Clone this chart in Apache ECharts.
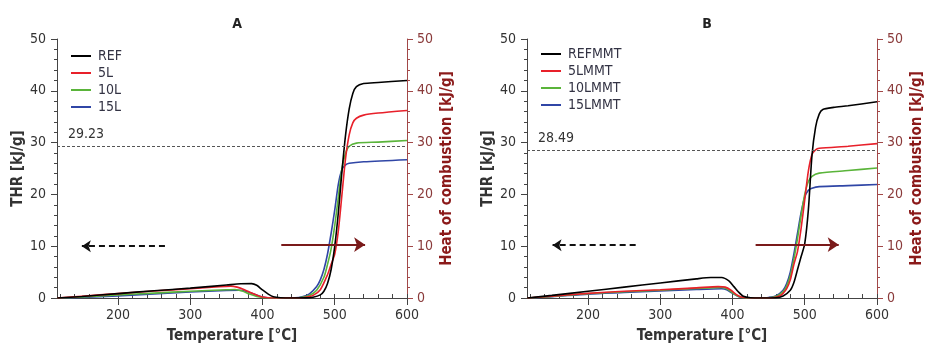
<!DOCTYPE html>
<html>
<head>
<meta charset="utf-8">
<script src="https://cdn.jsdelivr.net/npm/echarts@6/dist/echarts.min.js"></script>
<style>
  html, body { margin: 0; padding: 0; background: #fff; }
  #chart { width: 928px; height: 349px; }
</style>
</head>
<body>
<div id="chart"></div>
<script>
// panel titles, legend names, reference values
const panelTitles = ['A', 'B']
const namesA = ['REF', '5L', '10L', '15L']
const namesB = ['REFMMT', '5LMMT', '10LMMT', '15LMMT']
const refLevels = [29.23, 28.49]
const seriesColors = ['#000000', '#e8202a', '#5ab43a', '#3046a6']

// x axis ticks
const majorTicks = [200, 300, 400, 500, 600]
const minorTicks = [120, 140, 160, 180, 200, 220, 240, 260, 280, 300, 320, 340, 360, 380, 400,
  420, 440, 460, 480, 500, 520, 540, 560, 580, 600]

// arrows [x start, x end, y] in data units
const leftArrows = [[265, 150, 10], [266, 151, 10.2]]
const rightArrows = [[426, 542, 10.3], [432, 547, 10.3]]

// THR curves, [temperature, kJ/g]
const refA = [[116, 0], [150, 0.3], [200, 0.85], [250, 1.4], [300, 1.9], [350, 2.5], [370, 2.75], [385, 2.78],
  [392, 2.45], [400, 1.55], [408, 0.75], [415, 0.25], [425, 0.05], [440, 0], [460, 0.02], [470, 0.15], [480, 0.6],
  [485, 1.3], [490, 2.8], [495, 5.5], [500, 10], [505, 16.5], [510, 24.5], [515, 31.5], [520, 36.5], [525, 39.5],
  [530, 40.8], [540, 41.4], [560, 41.6], [600, 42.0]]
const l5A = [[116, 0], [150, 0.35], [200, 0.85], [250, 1.35], [300, 1.8], [340, 2.2], [356, 2.3], [365, 2.1],
  [375, 1.6], [385, 0.95], [395, 0.4], [405, 0.1], [420, 0], [450, 0.02], [460, 0.15], [470, 0.5], [480, 1.6],
  [490, 4.5], [495, 6.5], [500, 8.5], [505, 13], [510, 20], [515, 27], [520, 31.5], [525, 33.8], [530, 34.7],
  [540, 35.3], [560, 35.7], [600, 36.2]]
const l10A = [[116, 0], [150, 0.2], [200, 0.6], [250, 0.95], [300, 1.3], [350, 1.6], [362, 1.65], [372, 1.35],
  [382, 0.75], [392, 0.3], [402, 0.05], [420, 0], [445, 0.02], [455, 0.15], [465, 0.5], [475, 1.5], [485, 4],
  [490, 6.5], [495, 9.5], [500, 14], [505, 19.5], [510, 25], [515, 28], [520, 29.3], [530, 29.9], [560, 30.1],
  [600, 30.4]]
const l15A = [[116, 0], [150, 0.1], [200, 0.4], [250, 0.8], [300, 1.15], [350, 1.45], [368, 1.5], [378, 1.25],
  [388, 0.75], [397, 0.3], [407, 0.05], [420, 0], [445, 0.05], [455, 0.25], [465, 0.8], [475, 2.2], [480, 3.5],
  [485, 5.5], [490, 8.5], [495, 12.5], [500, 17], [505, 22], [510, 24.8], [515, 25.7], [520, 26.0], [540, 26.3],
  [600, 26.7]]

const refB = [[116, 0], [150, 0.5], [200, 1.3], [250, 2.1], [300, 2.9], [350, 3.7], [370, 3.95], [385, 3.95],
  [395, 3.3], [402, 2.2], [408, 1.2], [415, 0.35], [425, 0.05], [440, 0], [460, 0.05], [470, 0.4], [480, 1.5],
  [485, 3], [490, 5.5], [495, 8], [500, 10.5], [505, 17], [510, 27.5], [515, 33], [520, 35.5], [525, 36.4],
  [540, 36.8], [560, 37.1], [600, 37.9]]
const l5B = [[116, 0], [150, 0.35], [200, 0.9], [250, 1.3], [300, 1.6], [350, 1.95], [380, 2.2], [390, 2.1],
  [398, 1.5], [405, 0.7], [412, 0.2], [420, 0.05], [440, 0], [455, 0.05], [465, 0.4], [470, 0.9], [475, 1.8],
  [480, 3.5], [485, 6.5], [490, 9], [495, 13.5], [500, 19], [505, 24.5], [510, 27.7], [515, 28.6], [520, 28.9],
  [560, 29.3], [600, 29.8]]
const l10B = [[116, 0], [150, 0.3], [200, 0.85], [250, 1.2], [300, 1.5], [350, 1.85], [385, 2.05], [392, 1.8],
  [400, 1.0], [408, 0.35], [415, 0.08], [440, 0], [450, 0.05], [460, 0.3], [470, 1.2], [475, 2.3], [480, 4.3],
  [485, 7.5], [490, 11.5], [495, 16], [500, 20], [505, 22.5], [510, 23.5], [520, 24.1], [560, 24.6], [600, 25.1]]
const l15B = [[116, 0], [150, 0.25], [200, 0.75], [250, 1.05], [300, 1.35], [350, 1.65], [385, 1.8], [392, 1.6],
  [400, 0.9], [408, 0.3], [415, 0.05], [440, 0], [450, 0.1], [460, 0.4], [470, 1.5], [475, 2.8], [480, 5],
  [485, 8.5], [490, 12.5], [495, 16.5], [500, 19.5], [505, 20.8], [510, 21.2], [520, 21.5], [560, 21.7], [600, 21.9]]

const curves = [[refA, l5A, l10A, l15A], [refB, l5B, l10B, l15B]]
const names = [namesA, namesB]

const FONT = '"DejaVu Sans Condensed", "Liberation Sans", sans-serif'
const DARK = '#333333'
const HOC = '#8b1a1a'
const HOC_AXIS = '#a24848'

const grids = [
  { left: 57, top: 39, width: 350, height: 263 },
  { left: 527, top: 39, width: 350, height: 263 },
]
const legendPos = [{ left: 66, top: 43 }, { left: 536, top: 41 }]
const titleX = [232, 702]

const xAxes = []
const yAxes = []
const series = []

grids.forEach((g, p) => {
  // main x axis: labels and long ticks
  xAxes.push({
    type: 'value', gridIndex: p, min: 115.6, max: 600,
    name: 'Temperature [°C]', nameLocation: 'middle', nameGap: 31,
    nameTextStyle: { fontFamily: FONT, fontSize: 15, fontWeight: 'bold', color: DARK },
    axisLine: { lineStyle: { color: '#444', width: 1 } },
    axisTick: { show: true, length: 7, customValues: majorTicks, lineStyle: { color: '#444' } },
    axisLabel: { customValues: majorTicks, margin: 10, fontFamily: FONT, fontSize: 14, color: DARK },
    splitLine: { show: false },
  })
  // minor ticks every 20
  xAxes.push({
    type: 'value', gridIndex: p, min: 115.6, max: 600,
    axisLine: { show: false },
    axisTick: { show: true, length: 4, customValues: minorTicks, lineStyle: { color: '#444' } },
    axisLabel: { show: false },
    splitLine: { show: false },
  })
  yAxes.push({
    type: 'value', gridIndex: p, min: 0, max: 50, interval: 10, position: 'left',
    name: 'THR [kJ/g]', nameLocation: 'middle', nameGap: 31,
    nameTextStyle: { fontFamily: FONT, fontSize: 15, fontWeight: 'bold', color: DARK },
    axisLine: { show: true, lineStyle: { color: '#444' } },
    axisTick: { show: true, length: 6, lineStyle: { color: '#444' } },
    minorTick: { show: true, splitNumber: 5, length: 3, lineStyle: { color: '#444' } },
    axisLabel: { margin: 11, fontFamily: FONT, fontSize: 14, color: DARK },
    splitLine: { show: false },
  })
  yAxes.push({
    type: 'value', gridIndex: p, min: 0, max: 50, interval: 10, position: 'right',
    name: 'Heat of combustion [kJ/g]', nameLocation: 'middle', nameGap: 33,
    nameRotate: 90,
    nameTextStyle: { fontFamily: FONT, fontSize: 15, fontWeight: 'bold', color: HOC },
    axisLine: { show: true, lineStyle: { color: HOC_AXIS } },
    axisTick: { show: true, length: 6, lineStyle: { color: HOC_AXIS } },
    minorTick: { show: true, splitNumber: 5, length: 3, lineStyle: { color: HOC_AXIS } },
    axisLabel: { margin: 10, fontFamily: FONT, fontSize: 14, color: '#8a3a3a' },
    splitLine: { show: false },
  })

  curves[p].forEach((data, i) => {
    series.push({
      name: names[p][i], type: 'line', data,
      xAxisIndex: p * 2, yAxisIndex: p * 2,
      symbol: 'none', smooth: 0.25,
      lineStyle: { color: seriesColors[i], width: 1.6 },
      itemStyle: { color: seriesColors[i] },
      z: 4 - i,
      markLine: i === 0 ? {
        silent: true, symbol: 'none',
        lineStyle: { color: '#555', type: [3, 2], width: 1 },
        label: {
          show: true, position: 'insideStartTop', formatter: String(refLevels[p]),
          fontFamily: FONT, fontSize: 14, color: DARK, distance: [11, 5],
        },
        data: [{ yAxis: refLevels[p] }],
      } : undefined,
    })
  })

  const la = leftArrows[p]
  const ra = rightArrows[p]
  // left-pointing dashed arrow (THR axis)
  series.push({
    type: 'line', data: [], xAxisIndex: p * 2, yAxisIndex: p * 2,
    markLine: {
      silent: true, symbol: ['none', 'arrow'], symbolSize: 9,
      lineStyle: { color: '#111', type: [6, 4], width: 2 },
      label: { show: false },
      data: [[{ coord: [la[0], la[2]] }, { coord: [la[1], la[2]] }]],
    },
  })
  // right-pointing arrow (heat of combustion axis)
  series.push({
    type: 'line', data: [], xAxisIndex: p * 2, yAxisIndex: p * 2 + 1,
    markLine: {
      silent: true, symbol: ['none', 'arrow'], symbolSize: 11,
      lineStyle: { color: '#7a1a1a', type: 'solid', width: 2 },
      label: { show: false },
      data: [[{ coord: [ra[0], ra[2]] }, { coord: [ra[1], ra[2]] }]],
    },
  })
})

const chart = echarts.init(document.getElementById('chart'), null, { renderer: 'canvas' })
chart.setOption({
  animation: false,
  backgroundColor: '#fff',
  title: panelTitles.map((t, p) => ({
    text: t, left: titleX[p], top: 12, textAlign: 'center',
    textStyle: { fontFamily: FONT, fontSize: 14, fontWeight: 'bold', color: '#222' },
  })),
  legend: names.map((n, p) => ({
    data: n, orient: 'vertical', left: legendPos[p].left, top: legendPos[p].top,
    icon: 'rect', itemWidth: 20, itemHeight: 2, itemGap: 1,
    textStyle: { fontFamily: FONT, fontSize: 14, color: '#333344', lineHeight: 16, padding: [0, 0, 0, 2] },
    selectedMode: false,
  })),
  grid: grids,
  xAxis: xAxes,
  yAxis: yAxes,
  series,
})
</script>
</body>
</html>
